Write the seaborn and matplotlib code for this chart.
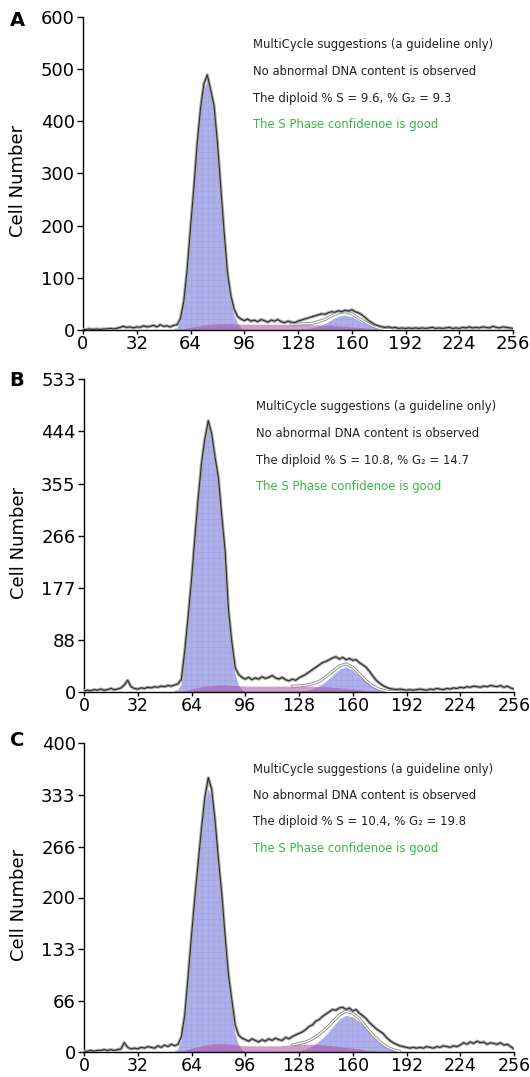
import numpy as np
import matplotlib
matplotlib.use('Agg')
import matplotlib.pyplot as plt
import seaborn as sns

# channels of the DNA histogram
channels = list(range(0, 257, 2))
g1_ch = list(range(54, 97, 2))
cmp_ch = list(range(56, 189, 4))
x_ticks = [0, 32, 64, 96, 128, 160, 192, 224, 256]

# raw histograms, one row = 16 channels
raw_a = [1, 1, 2, 1, 2, 1, 2, 2, 3, 2, 3, 5, 7, 5, 6, 4,
         6, 5, 8, 6, 7, 9, 6, 10, 7, 8, 6, 9, 10, 22, 55, 115,
         195, 272, 358, 425, 472, 489, 460, 430, 360, 275, 188, 110, 66, 40, 26, 21,
         18, 21, 17, 19, 16, 20, 18, 15, 19, 17, 20, 16, 14, 17, 15, 14,
         17, 19, 21, 23, 25, 27, 29, 31, 30, 33, 35, 34, 37, 35, 38, 36,
         39, 35, 33, 29, 24, 18, 14, 10, 8, 6, 5, 6, 4, 5, 3, 4,
         3, 4, 3, 4, 3, 4, 3, 4, 5, 3, 4, 3, 4, 5, 3, 4,
         3, 5, 4, 6, 4, 5, 4, 6, 5, 4, 7, 5, 4, 6, 5, 4,
         3]
raw_b = [2, 3, 2, 4, 3, 5, 3, 4, 6, 4, 5, 7, 12, 20, 9, 6,
         5, 7, 6, 8, 7, 9, 8, 10, 9, 11, 10, 12, 14, 22, 70, 128,
         190, 262, 330, 390, 432, 462, 440, 400, 365, 300, 240, 140, 85, 42, 30, 25,
         22, 25, 21, 24, 22, 26, 23, 25, 28, 24, 22, 25, 21, 19, 22, 20,
         24, 27, 30, 34, 38, 42, 46, 50, 52, 55, 58, 60, 56, 59, 55, 57,
         54, 55, 50, 46, 42, 35, 27, 20, 15, 11, 8, 6, 5, 4, 5, 4,
         3, 4, 3, 4, 5, 4, 3, 5, 4, 6, 5, 4, 6, 5, 7, 6,
         8, 7, 9, 8, 10, 9, 8, 10, 9, 11, 10, 9, 11, 8, 10, 7,
         5]
raw_c = [1, 1, 2, 1, 2, 2, 3, 2, 3, 2, 3, 4, 12, 6, 4, 5,
         4, 6, 5, 7, 6, 5, 8, 6, 9, 7, 10, 8, 10, 20, 48, 98,
         150, 200, 245, 290, 330, 355, 340, 300, 250, 205, 150, 100, 68, 35, 22, 18,
         16, 14, 17, 15, 13, 16, 14, 17, 15, 18, 16, 15, 19, 17, 20, 22,
         24, 26, 29, 33, 35, 40, 42, 46, 49, 52, 55, 54, 57, 58, 55, 57,
         53, 55, 50, 47, 43, 38, 34, 30, 27, 24, 19, 15, 12, 10, 8, 7,
         6, 5, 6, 5, 6, 5, 7, 6, 5, 7, 6, 8, 7, 6, 8, 7,
         9, 12, 10, 13, 11, 14, 12, 13, 10, 12, 11, 10, 12, 9, 10, 7,
         4]

# fitted G1 peak (on g1_ch)
g1_a = [2, 3, 15, 48, 106, 186, 262, 348, 414, 458, 476, 455, 420, 350, 265, 178, 100, 56, 30, 14, 5, 0]
g1_b = [2, 3, 12, 58, 118, 180, 252, 320, 380, 425, 450, 432, 392, 352, 288, 228, 128, 72, 32, 12, 4, 0]
g1_c = [1, 3, 14, 40, 88, 140, 190, 235, 280, 318, 340, 330, 290, 240, 194, 140, 90, 56, 24, 10, 3, 0]

# fitted S phase and G2 peak (on cmp_ch)
s_a = [0, 2, 5, 8, 10, 11, 12, 12, 12, 11, 11, 11, 11, 11, 11, 11, 11,
       11, 11, 11, 10, 10, 9, 9, 8, 7, 6, 5, 4, 2, 1, 0, 0, 0]
s_b = [0, 2, 5, 8, 10, 11, 12, 12, 11, 11, 10, 10, 10, 10, 10, 10, 10,
       10, 10, 10, 10, 9, 9, 8, 7, 6, 5, 4, 2, 1, 0.5, 0, 0, 0]
s_c = [0, 2, 5, 7, 9, 10, 11, 11, 10, 9, 8, 8, 8, 8, 8, 8, 9,
       9, 10, 10, 10, 10, 9, 8, 7, 6, 5, 4, 2, 1, 0.5, 0, 0, 0]
g2_a = [0] * 18 + [0.3, 1, 2.5, 6, 11, 18, 25, 28, 25, 18, 11, 6, 2.5, 1, 0.3, 0]
g2_b = [0] * 18 + [0.5, 1.5, 4, 9, 17, 27, 37, 42, 37, 27, 17, 9, 4, 1.5, 0.5, 0]
g2_c = [0] * 18 + [1, 3, 7, 13, 21, 31, 41, 47, 45, 39, 30, 21, 13, 7, 3, 1]

ymax = [600, 533, 400]
yticks_a = [0, 100, 200, 300, 400, 500, 600]
yticks_b = [0, 88, 177, 266, 355, 444, 533]
yticks_c = [0, 66, 133, 200, 266, 333, 400]

letters = ['A', 'B', 'C']
s_pct = ['9.6', '10.8', '10.4']
g2_pct = ['9.3', '14.7', '19.8']

sns.set_theme(style='ticks')
plt.rcParams['font.family'] = ['DejaVu Sans']
plt.rcParams['hatch.linewidth'] = 0.3

fig = plt.figure(figsize=(5.3, 10.77), dpi=100)
W, H = 530.0, 1077.0

# axes boxes in pixels: left, right, top, bottom
boxes = [(83, 513, 17, 330), (84, 514, 379, 692), (84, 514, 743, 1052)]
text_pos = [(0.395, 0.911), (0.40, 0.911), (0.392, 0.915)]
letter_y = [20, 381, 741]
xlab_size = [13, 12.5, 12.5]

raws = [raw_a, raw_b, raw_c]
g1s = [g1_a, g1_b, g1_c]
ss = [s_a, s_b, s_c]
g2s = [g2_a, g2_b, g2_c]
yticks = [yticks_a, yticks_b, yticks_c]

fill_col = '#adb0ea'
hatch_col = '#9a9fde'

for i in range(3):
    l, r, t, b = boxes[i]
    ax = fig.add_axes([l / W, 1 - b / H, (r - l) / W, (b - t) / H])

    # fitted components
    ax.fill_between(g1_ch, 0, g1s[i], facecolor=fill_col, edgecolor=hatch_col,
                    hatch='+++', linewidth=0, zorder=1)
    ax.fill_between(cmp_ch, 0, g2s[i], facecolor=fill_col, edgecolor=hatch_col,
                    hatch='+++', linewidth=0, zorder=1)
    ax.fill_between(cmp_ch, 0, ss[i], color='#b04ca8', alpha=0.55,
                    linewidth=0, zorder=2)

    # fitted sum over S + G2
    fit = np.array(ss[i]) + np.array(g2s[i])
    keep = np.array(cmp_ch) >= 124
    fx = np.array(cmp_ch)[keep]
    ax.plot(fx, fit[keep], color='#8c8c8c', lw=2.2, zorder=3)
    ax.plot(fx, fit[keep], color='white', lw=0.9, zorder=3.1)

    # raw histogram
    sns.lineplot(x=channels, y=raws[i], ax=ax, color='#a8a8a8', lw=2.3, zorder=4)
    sns.lineplot(x=channels, y=raws[i], ax=ax, color='#2e2e2e', lw=0.8, zorder=5)

    ax.set_xlim(0, 256)
    ax.set_ylim(0, ymax[i])
    ax.set_xticks(x_ticks)
    ax.set_xticklabels([str(v) for v in x_ticks])
    ax.set_yticks(yticks[i])
    ax.set_yticklabels([str(v) for v in yticks[i]])
    sns.despine(ax=ax)
    for sp in ['left', 'bottom']:
        ax.spines[sp].set_linewidth(1)
        ax.spines[sp].set_color('black')
    ax.tick_params(axis='y', labelsize=13, length=4, width=1,
                   color='black', labelcolor='black', pad=2)
    ax.tick_params(axis='x', labelsize=xlab_size[i], length=3, width=1,
                   color='black', labelcolor='black', pad=0.3)
    ax.set_xlabel('')
    ax.set_ylabel('Cell Number', fontsize=13, color='black')
    ax.yaxis.set_label_coords(-0.13, 0.475)

    tx, ty = text_pos[i]
    lines = ['MultiCycle suggestions (a guideline only)',
             'No abnormal DNA content is observed',
             'The diploid % S = ' + s_pct[i] + ', % G\u2082 = ' + g2_pct[i],
             'The S Phase confidenoe is good']
    colors = ['#222222', '#222222', '#222222', '#3db54a']
    for k in range(4):
        ax.text(tx, ty - k * 0.0853, lines[k], transform=ax.transAxes,
                fontsize=8.4, color=colors[k], ha='left', va='center')

    fig.text(17 / W, 1 - letter_y[i] / H, letters[i], fontsize=14,
             fontweight='bold', ha='center', va='center', color='black')

fig.savefig('out.png', dpi=100)
